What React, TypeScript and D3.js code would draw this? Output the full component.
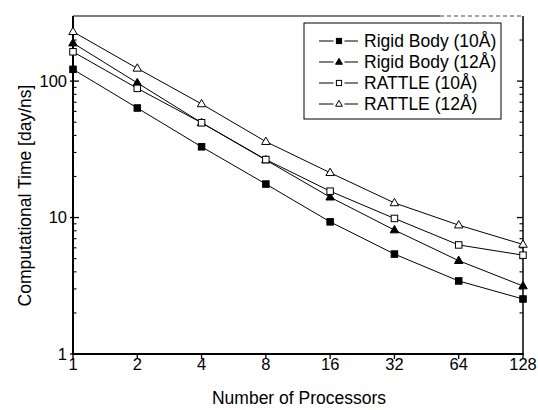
import React from "react";
import * as d3 from "d3";

const processors = [1, 2, 4, 8, 16, 32, 64, 128];
const rigid10 = [122, 63.5, 33, 17.6, 9.3, 5.4, 3.43, 2.53];
const rigid12 = [190, 97, 49.5, 26.4, 14.1, 8.1, 4.83, 3.15];
const rattle10 = [164, 88.5, 49.5, 26.6, 15.6, 9.85, 6.3, 5.3];
const rattle12 = [230, 124, 68, 36, 21.3, 12.8, 8.8, 6.35];
const seriesNames = ["Rigid Body (10Å)", "Rigid Body (12Å)", "RATTLE (10Å)", "RATTLE (12Å)"];
const yTickLabels = [1, 10, 100];

const W = 538;
const H = 410;
const L = 73, R = 523, T = 16, B = 354;
const FONT = "'Liberation Sans', Arial, sans-serif";

type Marker = "square" | "triangle";

function MarkerShape({ x, y, type, filled, scale = 1 }: { x: number; y: number; type: Marker; filled: boolean; scale?: number }) {
  const fill = filled ? "#000" : "#fff";
  if (type === "square") {
    const s = 6.5 * scale;
    return <rect x={x - s / 2} y={y - s / 2} width={s} height={s} fill={fill} stroke="#000" strokeWidth={1} />;
  }
  const s = 8.5 * scale;
  const h = s * 0.87;
  const pts = `${x},${y - h * 0.62} ${x - s / 2},${y + h * 0.38} ${x + s / 2},${y + h * 0.38}`;
  return <polygon points={pts} fill={fill} stroke="#000" strokeWidth={1} />;
}

export default function App() {
  const x = d3.scaleLog().base(2).domain([1, 128]).range([L, R]);
  const y = d3.scaleLog().domain([1, 300]).range([B, T]);

  const series = [
    { name: seriesNames[0], data: rigid10, type: "square" as Marker, filled: true },
    { name: seriesNames[1], data: rigid12, type: "triangle" as Marker, filled: true },
    { name: seriesNames[2], data: rattle10, type: "square" as Marker, filled: false },
    { name: seriesNames[3], data: rattle12, type: "triangle" as Marker, filled: false },
  ];

  const line = d3
    .line<number>()
    .x((_, i) => x(processors[i]))
    .y((d) => y(d));

  const minorTicks: number[] = [];
  [1, 10, 100].forEach((dec) => {
    for (let k = 2; k <= 9; k++) {
      const v = dec * k;
      if (v < 300) minorTicks.push(v);
    }
  });

  const legendX = 304, legendY = 23, legendW = 197, legendH = 96;
  const rowY = [41, 62, 83, 104];

  return (
    <svg width={W} height={H} style={{ position: "absolute", left: 0, top: 0, background: "#fff" }} fontFamily={FONT}>
      <rect x={0} y={0} width={W} height={H} fill="#fff" />
      {/* frame */}
      <line x1={L} y1={T} x2={440} y2={T} stroke="#000" strokeWidth={1.2} />
      <line x1={440} y1={T} x2={R} y2={T} stroke="#000" strokeWidth={1} strokeDasharray="4 3" opacity={0.7} />
      <line x1={R} y1={T} x2={R} y2={B} stroke="#000" strokeWidth={1.5} />
      <line x1={L} y1={T} x2={L} y2={B + 1} stroke="#000" strokeWidth={2} />
      <line x1={L - 1} y1={B} x2={R + 1} y2={B} stroke="#000" strokeWidth={2} />

      {/* y ticks */}
      {yTickLabels.map((v) => (
        <g key={"yt" + v}>
          <line x1={L - 3} x2={L + 6} y1={y(v)} y2={y(v)} stroke="#000" strokeWidth={1.3} />
          <line x1={R - 6} x2={R} y1={y(v)} y2={y(v)} stroke="#000" strokeWidth={1.3} />
          <text x={L - 6} y={y(v)} dy="0.36em" textAnchor="end" fontSize={16.5}>
            {v}
          </text>
        </g>
      ))}
      {minorTicks.map((v) => (
        <g key={"ym" + v}>
          <line x1={L} x2={L + 3.5} y1={y(v)} y2={y(v)} stroke="#000" strokeWidth={1.1} />
          <line x1={R - 3.5} x2={R} y1={y(v)} y2={y(v)} stroke="#000" strokeWidth={1.1} />
        </g>
      ))}

      {/* x ticks */}
      {processors.map((p) => (
        <g key={"xt" + p}>
          <line x1={x(p)} x2={x(p)} y1={B} y2={B + 5} stroke="#000" strokeWidth={1.3} />
          <text x={x(p)} y={370} textAnchor="middle" fontSize={16.5}>
            {p}
          </text>
        </g>
      ))}

      {/* series */}
      {series.map((s) => (
        <g key={s.name}>
          <path d={line(s.data) || ""} fill="none" stroke="#000" strokeWidth={1} />
          {s.data.map((v, i) => (
            <MarkerShape key={i} x={x(processors[i])} y={y(v)} type={s.type} filled={s.filled} />
          ))}
        </g>
      ))}

      {/* legend */}
      <rect x={legendX} y={legendY} width={legendW} height={legendH} fill="#fff" stroke="#000" strokeWidth={1} />
      {series.map((s, i) => (
        <g key={"lg" + i}>
          <line x1={319} x2={333.5} y1={rowY[i]} y2={rowY[i]} stroke="#000" strokeWidth={1} />
          <line x1={344.5} x2={358} y1={rowY[i]} y2={rowY[i]} stroke="#000" strokeWidth={1} />
          <MarkerShape x={339} y={rowY[i]} type={s.type} filled={s.filled} scale={0.8} />
          <text x={364} y={rowY[i]} dy="0.36em" fontSize={17.5}>
            {s.name}
          </text>
        </g>
      ))}

      {/* axis titles */}
      <text x={299} y={404} textAnchor="middle" fontSize={17.5}>
        Number of Processors
      </text>
      <text transform={`translate(31, 195.5) rotate(-90)`} textAnchor="middle" fontSize={17.5}>
        Computational Time [day/ns]
      </text>
    </svg>
  );
}
